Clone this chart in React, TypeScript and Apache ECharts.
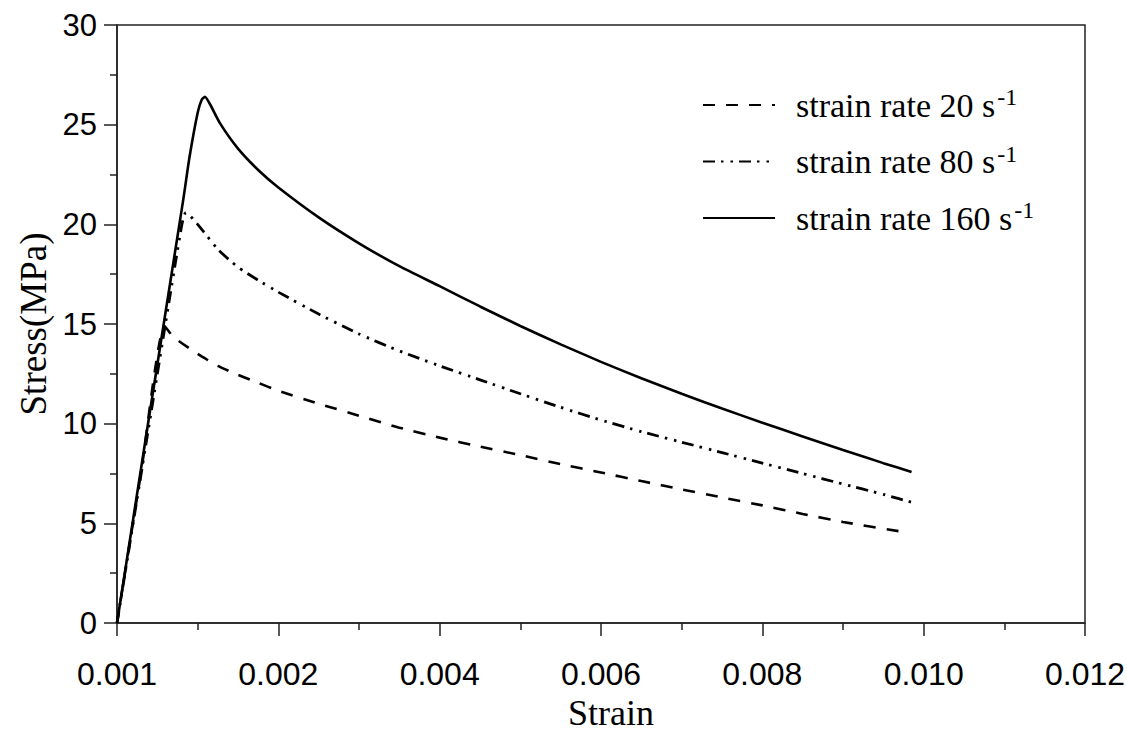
import React, { useEffect, useRef } from "react";
import * as echarts from "echarts";

// Tick labels of the strain axis (the first tick is printed as 0.001)
const xTickLabels = ["0.001", "0.002", "0.004", "0.006", "0.008", "0.010", "0.012"];

const seriesNames = ["strain rate 20 s", "strain rate 80 s", "strain rate 160 s"];

// [strain, stress (MPa)]
const rate20: [number, number][] = [
  [0, 0], [0.0003, 7.6], [0.00059, 14.9], [0.0007, 14.35], [0.001, 13.5], [0.00125, 12.9],
  [0.0015, 12.45], [0.00175, 12.05], [0.002, 11.65], [0.0025, 11.0],
  [0.003, 10.4], [0.0035, 9.8], [0.004, 9.3], [0.0045, 8.85], [0.005, 8.42],
  [0.0055, 7.97], [0.006, 7.55], [0.0065, 7.12], [0.007, 6.7], [0.0075, 6.3],
  [0.008, 5.9], [0.0085, 5.47], [0.009, 5.07], [0.0097, 4.6],
];

const rate80: [number, number][] = [
  [0, 0], [0.0004, 10.0], [0.0008, 19.9], [0.000855, 20.6], [0.001, 20.0], [0.00125, 18.75],
  [0.0015, 17.85], [0.00175, 17.2], [0.002, 16.6], [0.0025, 15.5],
  [0.003, 14.5], [0.0035, 13.65], [0.004, 12.9], [0.0045, 12.2], [0.005, 11.5],
  [0.0055, 10.82], [0.006, 10.18], [0.0065, 9.6], [0.007, 9.07], [0.0075, 8.55],
  [0.008, 8.02], [0.0085, 7.5], [0.009, 6.97], [0.0095, 6.45], [0.0099, 6.0],
];

const rate160: [number, number][] = [
  [0, 0], [0.0004, 10.4], [0.00082, 21.2], [0.0009, 23.4], [0.001, 25.6], [0.00105, 26.25],
  [0.00109, 26.4], [0.00115, 26.05], [0.00128, 25.05], [0.0015, 23.8],
  [0.00177, 22.65], [0.002, 21.85], [0.0025, 20.35], [0.003, 19.05],
  [0.0035, 17.9], [0.004, 16.9], [0.0045, 15.88], [0.005, 14.9],
  [0.0055, 13.98], [0.006, 13.1], [0.0065, 12.28], [0.007, 11.5],
  [0.0075, 10.76], [0.008, 10.05], [0.0085, 9.36], [0.009, 8.68],
  [0.0095, 8.02], [0.00985, 7.58],
];

const SANS = "Liberation Sans, Arial, sans-serif";
const SERIF = "Liberation Serif, Times New Roman, serif";

export default function App() {
  const ref = useRef<HTMLDivElement>(null);

  useEffect(() => {
    if (!ref.current) return;
    const chart = echarts.init(ref.current, undefined, { renderer: "svg" });

    const lineBase = {
      type: "line" as const,
      showSymbol: false,
      symbol: "none",
      smooth: 0.2,
      color: "#000",
    };

    chart.setOption({
      animation: false,
      backgroundColor: "#fff",
      grid: {
        left: 117,
        right: 42,
        top: 25,
        bottom: 107,
        outerBoundsMode: "none",
        show: true,
        borderColor: "#222",
        borderWidth: 1.5,
        backgroundColor: "transparent",
      },
      legend: {
        orient: "vertical",
        left: 697,
        top: 80,
        itemWidth: 72,
        itemHeight: 20,
        itemGap: 19.5,
        data: seriesNames,
        itemStyle: { opacity: 0 },
        formatter: (n: string) => `{base|${n}}{sup|-1}`,
        textStyle: {
          padding: [0, 0, 0, 16],
          rich: {
            base: { fontFamily: SERIF, fontSize: 34, color: "#000", lineHeight: 40 },
            sup: { fontFamily: SERIF, fontSize: 24, color: "#000", lineHeight: 10, verticalAlign: "top", padding: [0, 0, 0, 2] },
          },
        },
      },
      xAxis: {
        type: "value",
        min: 0,
        max: 0.012,
        interval: 0.002,
        name: "Strain",
        nameLocation: "middle",
        nameGap: 66,
        nameTextStyle: { fontFamily: SERIF, fontSize: 36, color: "#000", padding: [0, 0, 0, 20] },
        axisLine: { lineStyle: { color: "#222", width: 1.5 } },
        axisTick: { show: true, inside: false, length: 13, lineStyle: { color: "#222", width: 1.5 } },
        minorTick: { show: true, splitNumber: 2, length: 7, lineStyle: { color: "#222", width: 1.5 } },
        splitLine: { show: false },
        minorSplitLine: { show: false },
        axisLabel: {
          margin: 35,
          fontFamily: SANS,
          fontSize: 32,
          color: "#000",
          formatter: (v: number) => xTickLabels[Math.round(v / 0.002)] ?? "",
        },
      },
      yAxis: {
        type: "value",
        min: 0,
        max: 30,
        interval: 5,
        name: "Stress(MPa)",
        nameLocation: "middle",
        nameGap: 60,
        nameTextStyle: { fontFamily: SERIF, fontSize: 37, color: "#000" },
        axisLine: { show: true, lineStyle: { color: "#222", width: 1.5 } },
        axisTick: { show: true, inside: false, length: 13, lineStyle: { color: "#222", width: 1.5 } },
        minorTick: { show: true, splitNumber: 2, length: 7, lineStyle: { color: "#222", width: 1.5 } },
        splitLine: { show: false },
        minorSplitLine: { show: false },
        axisLabel: { margin: 20, fontFamily: SANS, fontSize: 31, color: "#000" },
      },
      series: [
        {
          ...lineBase,
          name: seriesNames[0],
          data: rate20,
          lineStyle: { color: "#000", width: 2.6, type: [12, 11], cap: "butt" },
        },
        {
          ...lineBase,
          name: seriesNames[1],
          data: rate80,
          lineStyle: { color: "#000", width: 2.8, type: [12, 6, 2.5, 7, 2.5, 6], cap: "butt" },
        },
        {
          ...lineBase,
          name: seriesNames[2],
          data: rate160,
          lineStyle: { color: "#000", width: 2.6, type: "solid" },
        },
      ],
    });

    return () => chart.dispose();
  }, []);

  return (
    <div
      ref={ref}
      style={{ position: "absolute", left: 0, top: 0, width: 1127, height: 730, background: "#fff" }}
    />
  );
}
